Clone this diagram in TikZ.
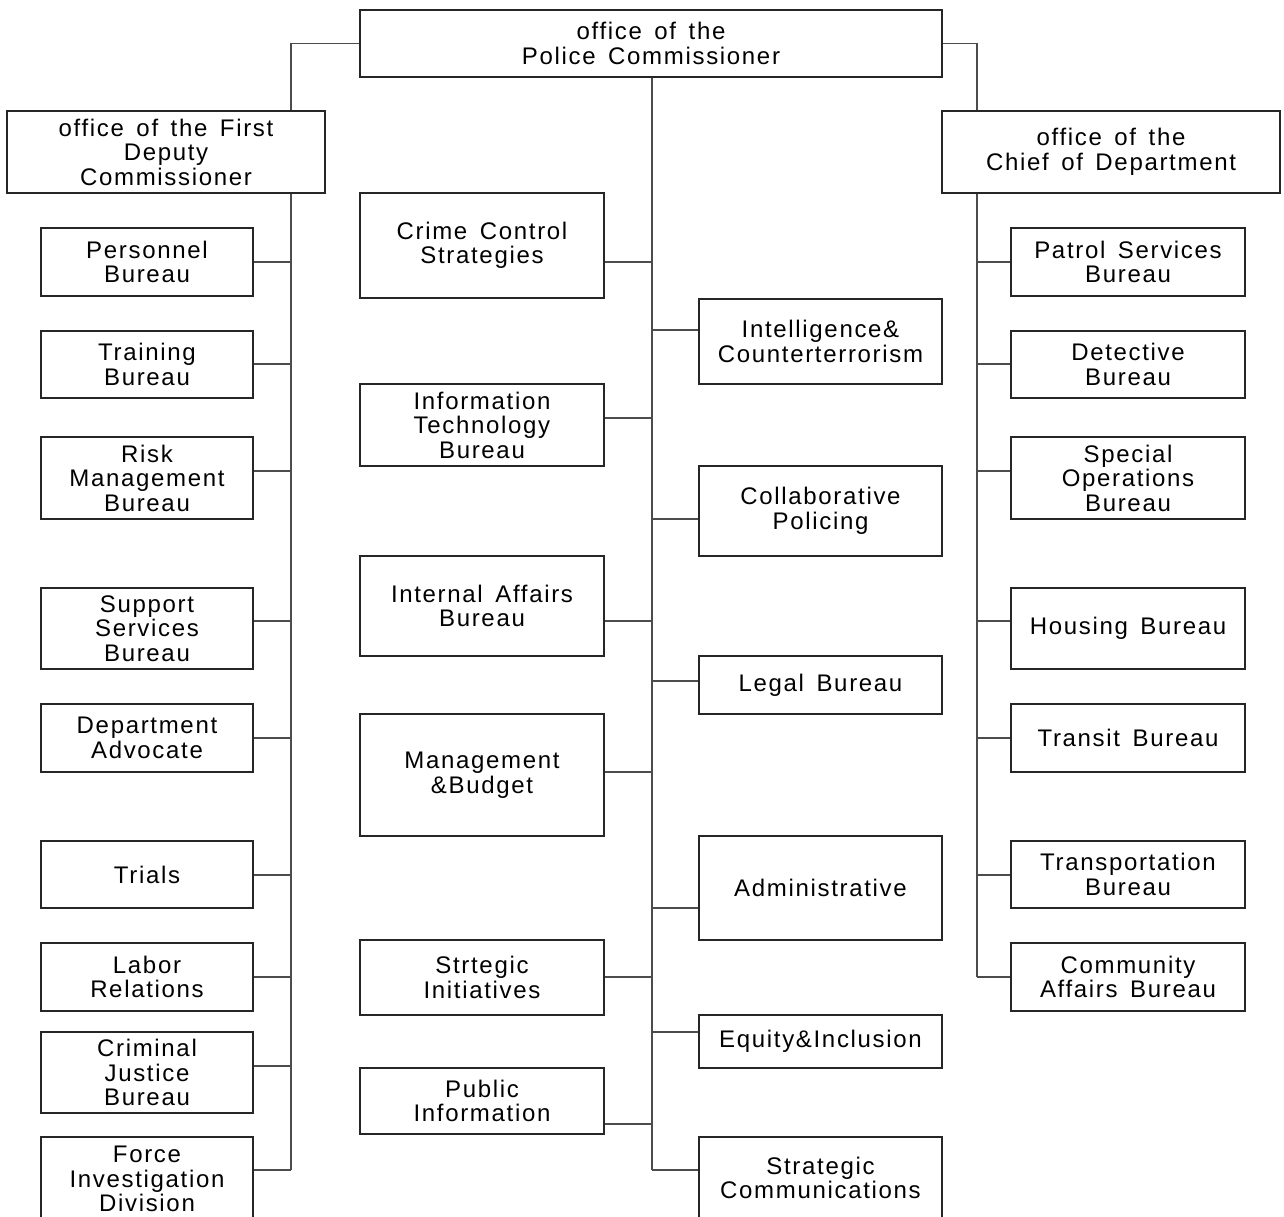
\documentclass[tikz,border=0pt]{standalone}
\usepackage{fontspec}
\setmainfont{Liberation Sans}[LetterSpace=7,WordSpace=1.5]
\tikzset{
  unit/.style 2 args={draw=black!85, line width=1.2pt, fill=white, align=center,
    inner sep=0pt, minimum width=#1, minimum height=#2,
    font=\fontsize{24}{24.5}\selectfont},
  link/.style={draw=black!70, line width=1.2pt},
}
\begin{document}
\begin{tikzpicture}[x=1pt,y=-1pt]
  \clip (0,0) rectangle (1284,1217);
  % top offices
  \node[unit={582pt}{67pt}] (pc) at (651,43.5) {office of the\\Police Commissioner};
  \node[unit={318pt}{82pt}] (fdc) at (166,152) {office of the First\\Deputy\\Commissioner};
  \node[unit={338pt}{82pt}] (cod) at (1111,152) {office of the\\Chief of Department};
  % first deputy column
  \node[unit={212pt}{68pt}] (pers)  at (147,262)   {Personnel\\Bureau};
  \node[unit={212pt}{67pt}] (train) at (147,364.5) {Training\\Bureau};
  \node[unit={212pt}{82pt}] (risk)  at (147,478)   {Risk\\Management\\Bureau};
  \node[unit={212pt}{81pt}] (supp)  at (147,628.5) {Support\\Services\\Bureau};
  \node[unit={212pt}{68pt}] (adv)   at (147,738)   {Department\\Advocate};
  \node[unit={212pt}{67pt}] (trial) at (147,874.5) {Trials};
  \node[unit={212pt}{68pt}] (labor) at (147,977)   {Labor\\Relations};
  \node[unit={212pt}{81pt}] (crim)  at (147,1072.5) {Criminal\\Justice\\Bureau};
  \node[unit={212pt}{84pt}] (force) at (147,1179)  {Force\\Investigation\\Division};
  % commissioner, left
  \node[unit={244pt}{105pt}] (ccs)  at (482,245.5) {Crime Control\\Strategies};
  \node[unit={244pt}{82pt}]  (itb)  at (482,425)   {Information\\Technology\\Bureau};
  \node[unit={244pt}{100pt}] (iab)  at (482,606)   {Internal Affairs\\Bureau};
  \node[unit={244pt}{122pt}] (mgmt) at (482,775)   {Management\\\&Budget};
  \node[unit={244pt}{75pt}]  (sti)  at (482,977.5) {Strtegic\\Initiatives};
  \node[unit={244pt}{66pt}]  (pub)  at (482,1101)  {Public\\Information};
  % commissioner, right
  \node[unit={243pt}{85pt}]  (intel) at (820.5,341.5) {Intelligence\&\\Counterterrorism};
  \node[unit={243pt}{90pt}]  (colab) at (820.5,511)   {Collaborative\\Policing};
  \node[unit={243pt}{58pt}]  (legal) at (820.5,685)   {Legal Bureau};
  \node[unit={243pt}{104pt}] (admin) at (820.5,888)   {Administrative};
  \node[unit={243pt}{53pt}]  (eqi)   at (820.5,1041.5) {Equity\&Inclusion};
  \node[unit={243pt}{82pt}]  (stc)   at (820.5,1178)  {Strategic\\Communications};
  % chief of department column
  \node[unit={234pt}{68pt}] (patrol) at (1128,262)   {Patrol Services\\Bureau};
  \node[unit={234pt}{67pt}] (det)    at (1128,364.5) {Detective\\Bureau};
  \node[unit={234pt}{82pt}] (sob)    at (1128,478)   {Special\\Operations\\Bureau};
  \node[unit={234pt}{81pt}] (hous)   at (1128,628.5) {Housing Bureau};
  \node[unit={234pt}{68pt}] (trans)  at (1128,738)   {Transit Bureau};
  \node[unit={234pt}{67pt}] (tport)  at (1128,874.5) {Transportation\\Bureau};
  \node[unit={234pt}{68pt}] (comm)   at (1128,977)   {Community\\Affairs Bureau};
  % junctions on the spines
  \foreach \n/\y in {pers/262,train/364,risk/471,supp/621,adv/738,trial/875,labor/977,crim/1066,force/1170}
    \coordinate (\n-j) at (291,\y);
  \foreach \n/\y in {ccs/262,intel/330,itb/418,colab/519,iab/621,legal/681,mgmt/772,admin/908,sti/977,eqi/1032,pub/1124,stc/1170}
    \coordinate (\n-j) at (652,\y);
  \foreach \n/\y in {patrol/262,det/364,sob/471,hous/621,trans/738,tport/875,comm/977}
    \coordinate (\n-j) at (977,\y);
  % spines
  \draw[link] (pc.west) -| (fdc.north -| force-j);
  \draw[link] (fdc.south -| force-j) -- (force-j);
  \draw[link] (pc.east) -| (cod.north -| comm-j);
  \draw[link] (cod.south -| comm-j) -- (comm-j);
  \draw[link] (pc.south -| stc-j) -- (stc-j);
  % branches
  \foreach \n in {pers,train,risk,supp,adv,trial,labor,crim,force,ccs,itb,iab,mgmt,sti,pub}
    \draw[link] (\n.east |- \n-j) -- (\n-j);
  \foreach \n in {intel,colab,legal,admin,eqi,stc,patrol,det,sob,hous,trans,tport,comm}
    \draw[link] (\n-j) -- (\n.west |- \n-j);
\end{tikzpicture}
\end{document}
